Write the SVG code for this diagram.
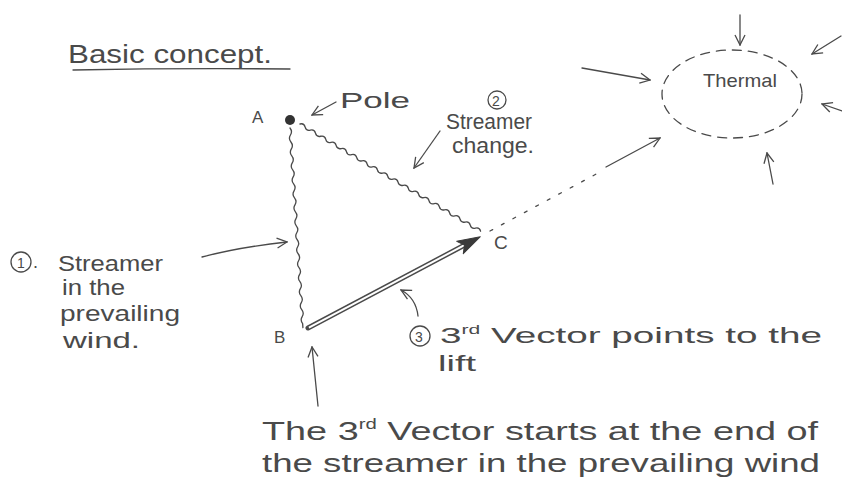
<svg xmlns="http://www.w3.org/2000/svg" width="842" height="484" viewBox="0 0 842 484">
<style>
text{font-family:"Liberation Sans","DejaVu Sans",sans-serif;fill:#4a4a4a}
.ln{fill:none;stroke:#4a4a4a;stroke-width:1.3;stroke-linecap:round;stroke-linejoin:round}
.lbl{font-size:22px}
.big{font-size:26px}
</style>
<defs>
<marker id="open" viewBox="0 0 12 12" refX="11" refY="6" markerWidth="12" markerHeight="12" markerUnits="userSpaceOnUse" orient="auto">
<path d="M1,1 L11,6 L1,11" fill="none" stroke="#4a4a4a" stroke-width="1.3"/>
</marker>
</defs>
<rect width="842" height="484" fill="#fff"/>

<g id="title">
<text x="68" y="63" font-size="25" textLength="204" lengthAdjust="spacingAndGlyphs">Basic concept.</text>
<path class="ln" d="M73,70 Q180,68 290,69"/>
</g>

<g id="pointA">
<circle cx="290" cy="120" r="5" fill="#333"/>
<text x="252" y="123" font-size="17">A</text>
</g>
<g id="pointB">
<text x="274" y="343" font-size="17">B</text>
</g>
<g id="pointC">
<text x="494" y="249" font-size="19">C</text>
</g>

<g id="poleLabel">
<text class="lbl" x="340" y="108" textLength="70" lengthAdjust="spacingAndGlyphs">Pole</text>
</g>

<g id="streamerChange">
<circle cx="497" cy="100" r="9" class="ln"/>
<text x="492" y="106" font-size="14">2</text>
<text class="lbl" x="446" y="129" textLength="86" lengthAdjust="spacingAndGlyphs">Streamer</text>
<text class="lbl" x="452" y="153" textLength="82" lengthAdjust="spacingAndGlyphs">change.</text>
</g>

<g id="thermal">
<ellipse cx="732" cy="94" rx="70" ry="44" class="ln" stroke-dasharray="9 7"/>
<text x="703" y="87" font-size="19" textLength="74" lengthAdjust="spacingAndGlyphs">Thermal</text>
</g>

<g id="streamer1">
<circle cx="21" cy="262" r="10" class="ln"/>
<text x="17" y="268" font-size="14">1</text>
<text x="33" y="268" font-size="18">.</text>
<text class="lbl" x="58" y="271" textLength="105" lengthAdjust="spacingAndGlyphs">Streamer</text>
<text class="lbl" x="62" y="295" textLength="63" lengthAdjust="spacingAndGlyphs">in the</text>
<text class="lbl" x="60" y="321" textLength="120" lengthAdjust="spacingAndGlyphs">prevailing</text>
<text class="lbl" x="63" y="348" textLength="77" lengthAdjust="spacingAndGlyphs">wind.</text>
</g>

<g id="vector3">
<circle cx="420" cy="336" r="10" class="ln"/>
<text x="415" y="342" font-size="14">3</text>
<text class="lbl" x="440" y="343" textLength="382" lengthAdjust="spacingAndGlyphs">3<tspan font-size="12" dy="-9">rd</tspan><tspan dy="9"> Vector points to the</tspan></text>
<text class="lbl" x="438" y="371" textLength="38" lengthAdjust="spacingAndGlyphs">lift</text>
</g>

<g id="note">
<text class="big" x="262" y="440" textLength="556" lengthAdjust="spacingAndGlyphs">The 3<tspan font-size="14" dy="-11">rd</tspan><tspan dy="11"> Vector starts at the end of</tspan></text>
<text class="big" x="262" y="472" textLength="558" lengthAdjust="spacingAndGlyphs">the streamer in the prevailing wind</text>
</g>

<g id="connectors">
<!-- wavy A to C -->
<g transform="translate(300,124) rotate(30.7)">
<path class="ln" d="M0,0 q3,-3 6,0 t6,0 t6,0 t6,0 t6,0 t6,0 t6,0 t6,0 t6,0 t6,0 t6,0 t6,0 t6,0 t6,0 t6,0 t6,0 t6,0 t6,0 t6,0 t6,0 t6,0 t6,0 t6,0 t6,0 t6,0 t6,0 t6,0 t6,0 t6,0 t6,0 t6,0 t6,0 t6,0 t6,0 t6,0"/>
</g>
<!-- wavy A to B -->
<g transform="translate(290,128) rotate(86.3)">
<path class="ln" d="M0,0 q3.5,-2.5 7,0 t7,0 t7,0 t7,0 t7,0 t7,0 t7,0 t7,0 t7,0 t7,0 t7,0 t7,0 t7,0 t7,0 t7,0 t7,0 t7,0 t7,0 t7,0 t7,0 t7,0 t7,0 t7,0 t7,0 t7,0 t7,0 t7,0 t7,0 l4,0"/>
</g>
<!-- 3rd vector B to C -->
<g transform="translate(308,328) rotate(-27.9)">
<line x1="0" y1="0" x2="180" y2="0" stroke="#4a4a4a" stroke-width="5" stroke-linecap="round"/>
<line x1="1" y1="0" x2="178" y2="0" stroke="#fff" stroke-width="2"/>
<polygon points="172,-7 195,0 172,7 177,0" fill="#3a3a3a" stroke="#3a3a3a" stroke-width="1" stroke-linejoin="round"/>
</g>
<!-- dotted C to thermal -->
<path class="ln" d="M490,231 L600,172" stroke-dasharray="3 10"/>
<path class="ln" d="M606,167 L660,138" marker-end="url(#open)"/>
<!-- pole arrow -->
<path class="ln" d="M336,102 L312,115" marker-end="url(#open)"/>
<!-- streamer change arrow -->
<path class="ln" d="M440,131 L414,168" marker-end="url(#open)"/>
<!-- streamer 1 arrow -->
<path class="ln" d="M202,257 Q240,247 287,242" marker-end="url(#open)"/>
<!-- vector3 curved arrow -->
<path class="ln" d="M418,316 Q416,298 401,290" marker-end="url(#open)"/>
<!-- note arrow up to B -->
<path class="ln" d="M318,406 L312,347" marker-end="url(#open)"/>
<!-- thermal inflow arrows -->
<path class="ln" d="M740,15 L740,45" marker-end="url(#open)"/>
<path class="ln" d="M841,36 L812,54" marker-end="url(#open)"/>
<path class="ln" d="M582,68 L650,80" marker-end="url(#open)"/>
<path class="ln" d="M842,111 L822,104" marker-end="url(#open)"/>
<path class="ln" d="M773,184 L767,153" marker-end="url(#open)"/>
</g>
</svg>
